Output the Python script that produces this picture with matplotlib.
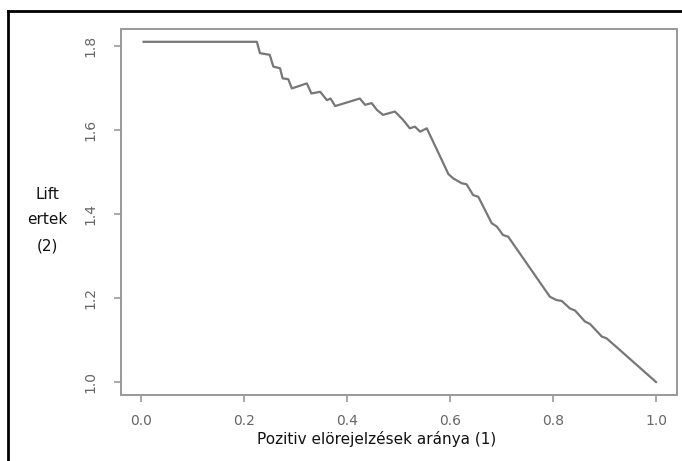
import numpy as np
import matplotlib.pyplot as plt
from matplotlib.lines import Line2D

# Lift görbe pontjai
arany = [0.005, 0.225, 0.231, 0.250, 0.257, 0.270, 0.275, 0.286, 0.293, 0.322,
         0.331, 0.348, 0.361, 0.368, 0.377, 0.425, 0.435, 0.448, 0.458, 0.470,
         0.493, 0.509, 0.522, 0.532, 0.542, 0.555, 0.597, 0.606, 0.623, 0.632,
         0.645, 0.655, 0.681, 0.691, 0.703, 0.713, 0.794, 0.807, 0.817, 0.833,
         0.843, 0.862, 0.872, 0.895, 0.904, 0.930, 1.000]
lift = [1.810, 1.810, 1.783, 1.779, 1.751, 1.747, 1.723, 1.721, 1.699, 1.711,
        1.687, 1.691, 1.671, 1.675, 1.657, 1.675, 1.660, 1.664, 1.648, 1.636,
        1.644, 1.624, 1.604, 1.608, 1.596, 1.604, 1.495, 1.485, 1.473, 1.471,
        1.445, 1.441, 1.378, 1.370, 1.350, 1.346, 1.203, 1.195, 1.193, 1.175,
        1.170, 1.144, 1.138, 1.108, 1.104, 1.076, 1.000]

x_ticks = [0.0, 0.2, 0.4, 0.6, 0.8, 1.0]
x_labels = ["0.0", "0.2", "0.4", "0.6", "0.8", "1.0"]
y_ticks = [1.0, 1.2, 1.4, 1.6, 1.8]
y_labels = ["1.0", "1.2", "1.4", "1.6", "1.8"]

W, H = 682, 461
fig = plt.figure(figsize=(W / 100, H / 100), dpi=100)
fig.patch.set_facecolor("white")

# fekete keret a kép szélén
fig.add_artist(Line2D([8 / W, 1.0], [1 - 11 / H, 1 - 11 / H], color="black", lw=2.0))
fig.add_artist(Line2D([8 / W, 8 / W], [0.0, 1 - 11 / H], color="black", lw=2.0))

ax = fig.add_axes([121 / W, 1 - 395 / H, (677 - 121) / W, (395 - 29) / H])
ax.plot(arany, lift, color="#777777", lw=1.6)

ax.set_xlim(-0.0388, 1.0408)
ax.set_ylim(0.969, 1.8405)

ax.set_xticks(x_ticks)
ax.set_xticklabels(x_labels)
ax.set_yticks(y_ticks)
ax.set_yticklabels(y_labels, rotation=90, va="center")

for s in ax.spines.values():
    s.set_color("#999999")
    s.set_linewidth(1.4)

ax.tick_params(axis="both", colors="#999999", length=5, width=1.2)
ax.tick_params(axis="x", labelcolor="#666666", labelsize=10, pad=9)
ax.tick_params(axis="y", labelcolor="#666666", labelsize=10, pad=12)

fig.text(377 / W, 1 - 439 / H, "Pozitiv elörejelzések aránya (1)",
         ha="center", va="center", fontsize=11, color="#111111")
fig.text(47 / W, 1 - 220 / H, "Lift\nertek\n(2)", ha="center", va="center",
         fontsize=11, color="#111111", linespacing=1.9)

plt.savefig("out.png", dpi=100)
plt.close()
